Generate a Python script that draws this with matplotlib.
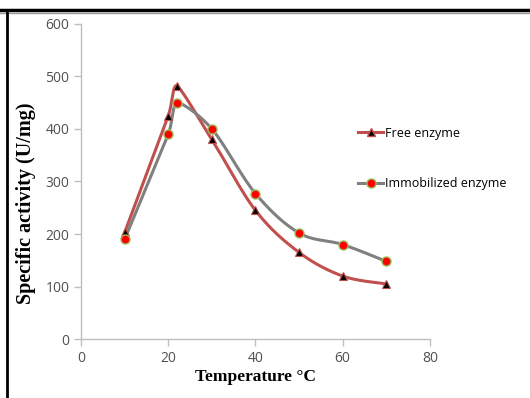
import numpy as np
import matplotlib.pyplot as plt
from matplotlib.lines import Line2D

temp = [10, 20, 22, 30, 40, 50, 60, 70]
free = [203, 425, 482, 380, 245, 165, 120, 105]
immob = [190, 390, 450, 400, 277, 202, 180, 148]

xticks = [0, 20, 40, 60, 80]
yticks = [0, 100, 200, 300, 400, 500, 600]


def smooth(xs, ys, sx, sy, n=30):
    # bezier smoothing like a spreadsheet "smoothed line", done in pixel-ish units
    p = np.column_stack([np.array(xs, float) * sx, np.array(ys, float) * sy])
    m = len(p)
    tang = []
    for i in range(m):
        a = p[max(i - 1, 0)]
        b = p[min(i + 1, m - 1)]
        t = (b - a) / 6.0
        segs = []
        if i > 0:
            segs.append(p[i][0] - p[i - 1][0])
        if i < m - 1:
            segs.append(p[i + 1][0] - p[i][0])
        lim = 0.5 * min(segs)
        if t[0] > lim:
            t = t * lim / t[0]
        tang.append(t)
    out = []
    for i in range(m - 1):
        p1 = p[i]
        p2 = p[i + 1]
        c1 = p1 + tang[i]
        c2 = p2 - tang[i + 1]
        t = np.linspace(0, 1, n)[:, None]
        bz = (1 - t) ** 3 * p1 + 3 * (1 - t) ** 2 * t * c1 + 3 * (1 - t) * t ** 2 * c2 + t ** 3 * p2
        out.append(bz if i == 0 else bz[1:])
    bz = np.vstack(out)
    return bz[:, 0] / sx, bz[:, 1] / sy


fig = plt.figure(figsize=(5.30, 3.98), dpi=100)
ax = fig.add_axes([0.153, 0.148, 0.658, 0.792])

sx, sy = 349 / 80.0, 315 / 600.0
red = '#C0504D'
grey = '#808080'

xf, yf = smooth(temp, free, sx, sy)
xi, yi = smooth(temp, immob, sx, sy)
ax.plot(xf, yf, color=red, lw=2.2, zorder=2)
ax.plot(xi, yi, color=grey, lw=2.2, zorder=3)
ax.plot(temp, free, ls='none', marker='^', ms=5.5, mfc='black', mec=red, mew=0.8, zorder=4)
ax.plot(temp, immob, ls='none', marker='o', ms=6.5, mfc='red', mec='#9BBB59', mew=1.0, zorder=5)

ax.set_xlim(0, 80)
ax.set_ylim(0, 600)
ax.set_xticks(xticks)
ax.set_yticks(yticks)
for s in ['top', 'right']:
    ax.spines[s].set_visible(False)
for s in ['left', 'bottom']:
    ax.spines[s].set_color('#BFBFBF')
    ax.spines[s].set_linewidth(1.0)
ax.tick_params(colors='#BFBFBF', labelcolor='#505050', labelsize=10, length=5, width=1.0)
for lab in ax.get_xticklabels() + ax.get_yticklabels():
    lab.set_family('Open Sans')

ax.set_xlabel('Temperature °C', family='Liberation Serif', weight='bold', fontsize=12.5, labelpad=2)
ax.set_ylabel('Specific activity (U/mg)', family='Liberation Serif', weight='bold', fontsize=14.5)
ax.yaxis.set_label_coords(-0.128, 0.43)

h1 = Line2D([], [], color=red, lw=2.2, marker='^', ms=5.5, mfc='black', mec=red)
h2 = Line2D([], [], color=grey, lw=2.2, marker='o', ms=6.5, mfc='red', mec='#9BBB59')
fig.legend([h1, h2], ['Free enzyme', 'Immobilized enzyme'], loc='upper left',
           bbox_to_anchor=(0.655, 0.71), frameon=False, handlelength=2.0,
           handletextpad=0.1, labelspacing=3.0, prop={'family': 'Open Sans', 'size': 9})

# outer frame (top and left only)
fig.add_artist(Line2D([0, 1], [0.974, 0.974], color='black', lw=2.5, transform=fig.transFigure))
fig.add_artist(Line2D([0, 1], [0.968, 0.968], color='#999999', lw=1.0, transform=fig.transFigure))
fig.add_artist(Line2D([0.013, 0.013], [0, 0.976], color='black', lw=2.0, transform=fig.transFigure))

fig.savefig('out.png', dpi=100)
